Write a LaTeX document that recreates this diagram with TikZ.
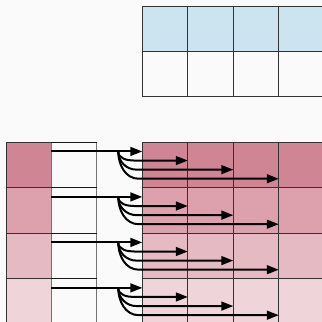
\documentclass[tikz,border=0pt]{standalone}
\usepackage{tikz}
\usetikzlibrary{positioning, arrows.meta, calc}
\usepackage{xcolor}

\definecolor{bgcol}{HTML}{FAFAFA}
\definecolor{qblue}{HTML}{CCE3F0}
\definecolor{rowa}{HTML}{D08595}
\definecolor{rowb}{HTML}{DCA1AC}
\definecolor{rowc}{HTML}{E5BAC3}
\definecolor{rowd}{HTML}{EFD4D9}

\begin{document}
\begin{tikzpicture}[scale=1.0,
    cell/.style={draw=black!80, line width=0.5pt, minimum size=1cm, inner sep=0pt, outer sep=0pt},
    link/.style={-{Triangle[length=7.5pt,width=5.5pt]}, line width=1.25pt}]
    % Background and frame
    \useasboundingbox[fill=bgcol] (-0.13,0.13) rectangle (6.95,-6.95);

    % Top grid
    \foreach \c in {1,...,4} {
        \node[cell, fill=qblue] (t1\c) at (2.5+\c,-0.5) {};
        \node[cell, fill=bgcol] (t2\c) at (2.5+\c,-1.5) {};
    }

    % Left columns and bottom grid
    \foreach \r/\col in {1/rowa, 2/rowb, 3/rowc, 4/rowd} {
        \node[cell, fill=\col] (k\r) at (0.5,-2.5-\r) {};
        \node[cell, fill=bgcol, draw=black!55] (v\r) at (1.5,-2.5-\r) {};
        \draw[black!90, line width=0.5pt] (v\r.north west) -- (v\r.north east);
        \foreach \c in {1,...,4}
            \node[cell, fill=\col] (q\r\c) at (2.5+\c,-2.5-\r) {};
    }

    % Arrows from each row into the grid
    \foreach \r in {1,...,4} {
        \coordinate (s\r) at ($(k\r.north east)+(0,-0.2)$);
        \coordinate (b\r) at ($(v\r.north east)+(0.47,-0.2)$);
        \draw[link] (s\r) -- (s\r -| q\r1.west);
        \foreach \k in {1,2,3} {
            \coordinate (e\r\k) at ($(b\r)+(0.3+0.05*\k,-0.2*\k)$);
            \draw[link] (b\r) to[out=-90, in=180] (e\r\k) -- (e\r\k -| q\r\k.east);
        }
    }

\end{tikzpicture}
\end{document}
